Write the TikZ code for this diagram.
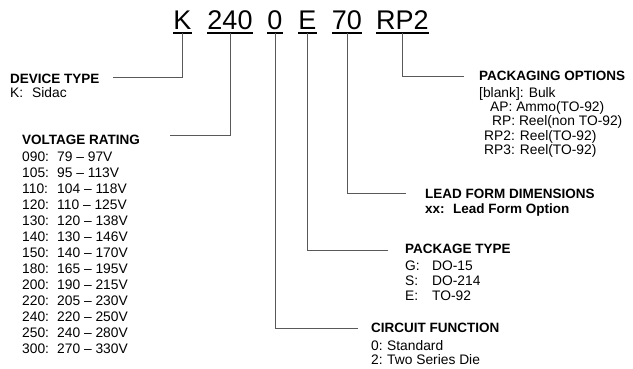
\documentclass[tikz,border=0pt]{standalone}
\usepackage{fontspec}
\setmainfont{Liberation Sans}
\begin{document}
\begin{tikzpicture}[x=1pt,y=-1pt,
  code/.style={font=\fontsize{27}{27}\selectfont, inner xsep=0pt, inner ysep=4pt,
    text height=19.3pt, text depth=0pt, anchor=base},
  hdr/.style={font=\fontsize{13.5}{13.5}\selectfont\bfseries, inner sep=0pt, anchor=base west},
  body/.style={font=\fontsize{13.8}{13.8}\selectfont, inner sep=0pt, anchor=base west},
  bodyb/.style={font=\fontsize{13.5}{13.5}\selectfont\bfseries, inner sep=0pt, anchor=base west},
  conn/.style={draw=black!65, line width=0.9pt},
  ul/.style={draw=black, line width=1.6pt}]
\useasboundingbox[fill=white] (0,0) rectangle (633,368);

% part number
\node[code] (cK)   at (182.5,29) {K};
\node[code] (c240) at (230,29)   {240};
\node[code] (c0)   at (275,29)   {0};
\node[code] (cE)   at (307.5,29) {E};
\node[code] (c70)  at (347,29)   {70};
\node[code] (cRP)  at (402.5,29) {RP2};
\foreach \n in {cK,c240,c0,cE,c70,cRP}
  \draw[ul] (\n.south west) -- (\n.south east);

% device type
\node[hdr]  (devh) at (10,83) {DEVICE TYPE};
\node[body] (dev1) at (10,97) {\makebox[22pt][l]{K:}Sidac};

% voltage rating
\node[hdr] (volh) at (22,144) {VOLTAGE RATING};
\foreach \c/\r [count=\i from 0] in {090/79 – 97V,105/95 – 113V,110/104 – 118V,120/110 – 125V,
  130/120 – 138V,140/130 – 146V,150/140 – 170V,180/165 – 195V,200/190 – 215V,
  220/205 – 230V,240/220 – 250V,250/240 – 280V,300/270 – 330V}
  \node[body] (vol\i) at (22,{161+16*\i}) {\makebox[35pt][l]{\c:}\r};

% packaging options
\node[hdr]  (pkh) at (479,80)  {PACKAGING OPTIONS};
\node[body] (pk1) at (479,97)  {[blank]: Bulk};
\node[body] (pk2) at (490,111) {AP: Ammo(TO-92)};
\node[body] (pk3) at (492,125) {RP: Reel(non TO-92)};
\node[body] (pk4) at (484,140) {RP2: Reel(TO-92)};
\node[body] (pk5) at (484,154) {RP3: Reel(TO-92)};

% lead form
\node[hdr]   (lfh) at (425,198) {LEAD FORM DIMENSIONS};
\node[bodyb] (lf1) at (425,213) {\makebox[28pt][l]{xx:}Lead Form Option};

% package type
\node[hdr]  (pth) at (405,253) {PACKAGE TYPE};
\node[body] (pt1) at (405,270) {\makebox[27pt][l]{G:}DO-15};
\node[body] (pt2) at (405,285) {\makebox[27pt][l]{S:}DO-214};
\node[body] (pt3) at (405,300) {\makebox[27pt][l]{E:}TO-92};

% circuit function
\node[hdr]  (cfh) at (371,332) {CIRCUIT FUNCTION};
\node[body] (cf1) at (371,350) {\makebox[16pt][l]{0:}Standard};
\node[body] (cf2) at (371,364) {\makebox[16pt][l]{2:}Two Series Die};

% connectors
\coordinate (kEnd)  at (113,77);
\coordinate (vEnd)  at (170,135);
\coordinate (zEnd)  at (358,328);
\coordinate (eEnd)  at (388,250);
\coordinate (sEnd)  at (406,193);
\coordinate (rEnd)  at (464,76);
\draw[conn] (cK.south)   |- (kEnd);
\draw[conn] (c240.south) |- (vEnd);
\draw[conn] (c0.south)   |- (zEnd);
\draw[conn] (cE.south)   |- (eEnd);
\draw[conn] (c70.south)  |- (sEnd);
\draw[conn] (cRP.south)  |- (rEnd);
\end{tikzpicture}
\end{document}
